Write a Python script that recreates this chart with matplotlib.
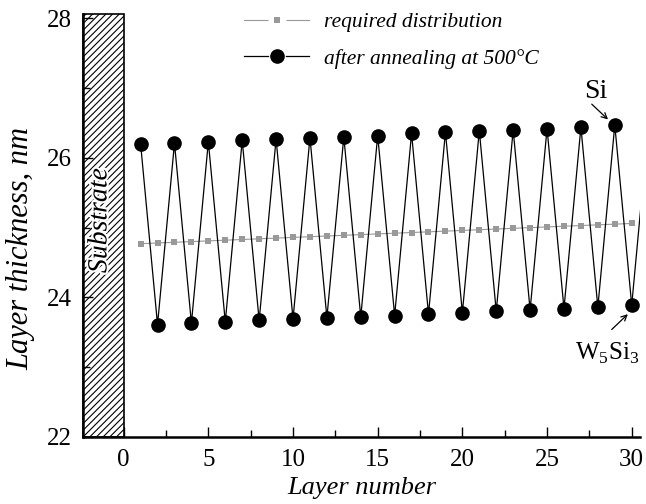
import matplotlib.pyplot as plt
from matplotlib.patches import Rectangle
from matplotlib.lines import Line2D
from matplotlib.legend_handler import HandlerTuple
from matplotlib.ticker import MultipleLocator
import matplotlib.patheffects as pe

plt.rcParams['font.family'] = ['Liberation Serif', 'DejaVu Serif']
plt.rcParams['mathtext.fontset'] = 'custom'
plt.rcParams['mathtext.rm'] = 'Liberation Serif'
plt.rcParams['hatch.linewidth'] = 0.8

# required distribution (layers 1..30)
req_layers = list(range(1, 31))
req_thick = [24.77, 24.78, 24.79, 24.80, 24.81, 24.82, 24.83, 24.84, 24.85, 24.86,
             24.87, 24.88, 24.89, 24.90, 24.91, 24.92, 24.93, 24.94, 24.95, 24.96,
             24.97, 24.98, 24.99, 25.00, 25.01, 25.02, 25.03, 25.04, 25.05, 25.06]

# after annealing at 500 C (odd = Si, even = W5Si3); layer 31 is cut by the frame
ann_layers = list(range(1, 32))
ann_thick = [26.20, 23.61, 26.21, 23.63, 26.23, 23.65, 26.25, 23.67, 26.27, 23.69,
             26.29, 23.71, 26.30, 23.72, 26.32, 23.74, 26.35, 23.76, 26.37, 23.78,
             26.39, 23.80, 26.40, 23.82, 26.42, 23.84, 26.44, 23.86, 26.47, 23.89,
             26.50]

gray = '#999999'

fig = plt.figure(figsize=(6.46, 5.04), dpi=100)
ax = fig.add_axes([0.128, 0.133, 0.863, 0.839])

ax.plot(req_layers, req_thick, color=gray, lw=0.8, marker='s', ms=4, mew=0)
ax.plot(ann_layers[:-1], ann_thick[:-1], color='black', lw=0.9, marker='o', ms=9.5)
ax.plot(ann_layers[-2:], ann_thick[-2:], color='black', lw=0.9)

ax.add_patch(Rectangle((-2.42, 22), 2.42, 6.06, facecolor='white', edgecolor='black',
                       hatch='/////', lw=1.2, zorder=0.5, clip_on=False))
ax.text(-1.4, 25.1, 'Substrate', rotation=90, ha='center', va='center',
        fontsize=20, style='italic',
        path_effects=[pe.withStroke(linewidth=3, foreground='white')])

# labels of the two layer kinds, with small arrows
ax.text(27.88, 26.95, 'Si', fontsize=20, ha='center', va='center')
ax.annotate('', xy=(28.6, 26.55), xytext=(27.64, 26.77),
            arrowprops=dict(arrowstyle='->', color='black', lw=0.9, shrinkA=0, shrinkB=0))
ax.text(28.55, 23.2, 'W$_5$Si$_3$', fontsize=18, ha='center', va='center')
ax.annotate('', xy=(29.77, 23.76), xytext=(28.82, 23.54),
            arrowprops=dict(arrowstyle='->', color='black', lw=0.9, shrinkA=0, shrinkB=0))

ax.set_xlim(-2.42, 30.5)
ax.set_ylim(22, 28.06)
ax.xaxis.set_major_locator(MultipleLocator(5))
ax.xaxis.set_minor_locator(MultipleLocator(2.5))
ax.yaxis.set_major_locator(MultipleLocator(2))
ax.yaxis.set_minor_locator(MultipleLocator(1))
ax.tick_params(which='both', direction='in', labelsize=18, width=1)
ax.tick_params(which='major', length=7)
ax.tick_params(which='minor', length=5)
ax.tick_params(axis='x', pad=9)
ax.tick_params(axis='y', pad=8)
ax.spines['top'].set_visible(False)
ax.spines['right'].set_visible(False)
ax.spines['left'].set_linewidth(1.8)
ax.spines['bottom'].set_linewidth(1.8)

ax.set_xlabel('Layer number', fontsize=19, style='italic', labelpad=4)
ax.set_ylabel('Layer thickness, nm', fontsize=22, style='italic')
ax.yaxis.set_label_coords(-0.085, 0.446)

# legend handles: line broken around the marker
h_req = (Line2D([], [], color=gray, lw=0.8, marker='s', ms=13, mfc='white', mec='none'),
         Line2D([], [], ls='none', marker='s', ms=5, color=gray, mew=0))
h_ann = (Line2D([], [], color='black', lw=0.9, marker='o', ms=12, mfc='white', mec='none'),
         Line2D([], [], ls='none', marker='o', ms=9.5, color='black'))
ax.legend([h_req, h_ann], ['required distribution', 'after annealing at 500°C'],
          handler_map={tuple: HandlerTuple(ndivide=1, pad=0)},
          loc='upper left', bbox_to_anchor=(0.255, 1.05), frameon=False,
          prop={'size': 15.5, 'style': 'italic'}, handlelength=3.0,
          handletextpad=0.7, labelspacing=0.75)

fig.savefig('out.png', dpi=100)
